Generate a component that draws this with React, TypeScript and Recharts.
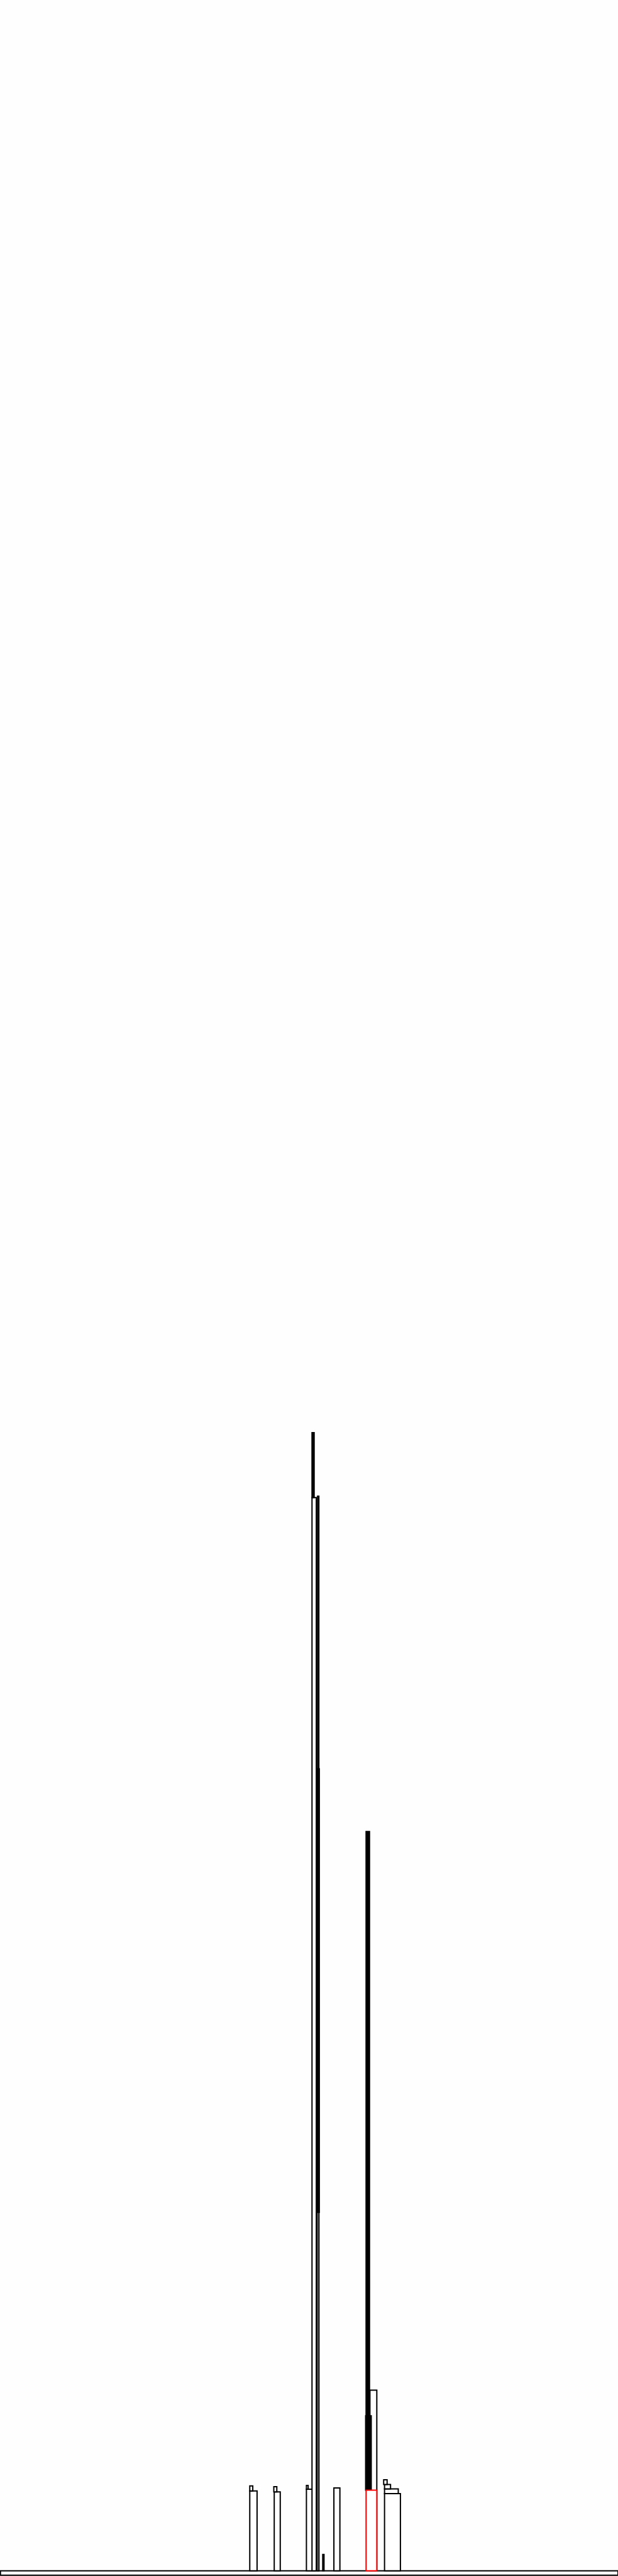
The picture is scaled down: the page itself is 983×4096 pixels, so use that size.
import { ComposedChart, XAxis, YAxis, ReferenceArea } from "recharts";

// skyline pieces, x in reference px, heights measured up from the ground line
const pieces = [
  "ground",
  "A body", "A spire",
  "B body", "B spire",
  "C body", "C spire",
  "T1 body", "T1 rib", "T1 rib mid", "T1 rib low", "T1 spire",
  "antenna",
  "E body",
  "T2 side", "T2 core", "T2 core low", "T2 base",
  "F body", "F step 2", "F step 1", "F spire",
];
const left = [1, 582, 582, 639, 638, 714, 714, 727, 740, 739, 739, 727, 752, 778, 862, 853, 852, 853, 896, 896, 896, 894];
const right = [1440, 599, 589, 653, 645, 734, 718, 737, 743, 744, 743, 732, 755, 792, 878, 861, 865, 878, 933, 928, 910, 902];
const bottom = [-10, 0, 186, 0, 184, 0, 190, 0, 0, 835, 0, 2500, 0, 0, 0, 188, 188, 0, 0, 180, 191, 201];
const top = [0, 186, 198, 184, 196, 190, 199, 2500, 2503, 1868, 835, 2651, 38, 193, 421, 1722, 361, 188, 180, 191, 201, 212];
const kind = [
  "outline",
  "outline", "outline",
  "outline", "outline",
  "outline", "outline",
  "outline", "outline", "solid", "outline", "solid",
  "solid",
  "outline",
  "outline", "solid", "solid", "red",
  "outline", "outline", "outline", "outline",
];

const styles: Record<string, { fill: string; stroke: string }> = {
  outline: { fill: "#ffffff", stroke: "#000000" },
  solid: { fill: "#000000", stroke: "#000000" },
  red: { fill: "#ffffff", stroke: "#ff0000" },
};

const data = [{ x: 0, y: 0 }, { x: 1440, y: 5988 }];

export default function App() {
  return (
    <div style={{ position: "absolute", left: 0, top: 0, background: "#fefefe" }}>
      <ComposedChart width={983} height={4096} data={data} margin={{ top: 0, right: 0, bottom: 0, left: 0 }}>
        <XAxis type="number" dataKey="x" domain={[0, 1440]} hide allowDataOverflow />
        <YAxis type="number" domain={[-12, 5988]} hide allowDataOverflow />
        {pieces.map((name, i) => (
          <ReferenceArea
            key={name}
            x1={left[i]}
            x2={right[i]}
            y1={bottom[i]}
            y2={top[i]}
            fill={styles[kind[i]].fill}
            fillOpacity={1}
            stroke={styles[kind[i]].stroke}
            strokeWidth={2}
            ifOverflow="visible"
          />
        ))}
      </ComposedChart>
    </div>
  );
}
